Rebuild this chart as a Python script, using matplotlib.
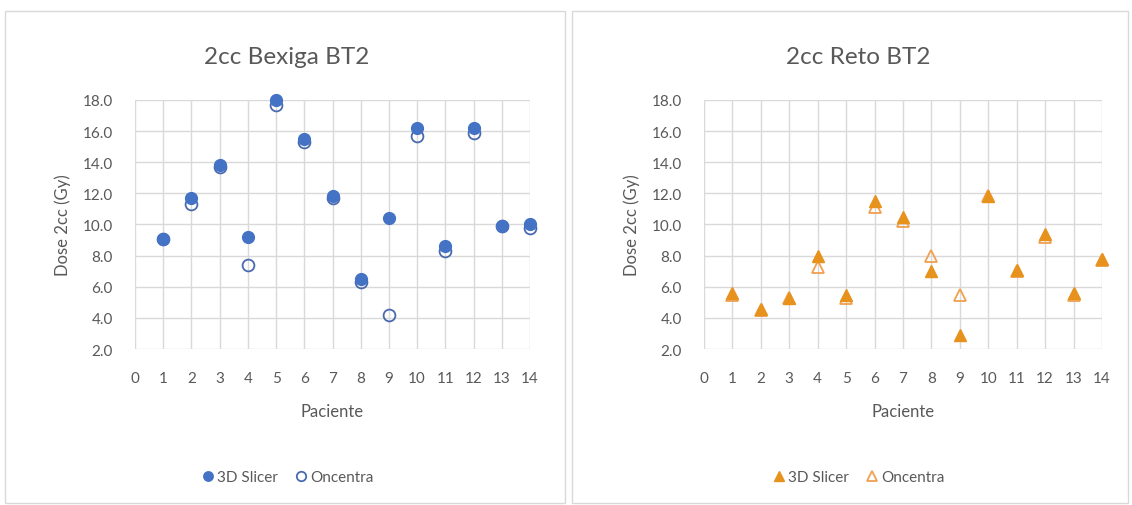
#!/usr/bin/env python3
"""Dose 2cc per patient: 3D Slicer vs Oncentra, bladder and rectum (BT2)."""

import matplotlib
matplotlib.use("Agg")
import matplotlib.pyplot as plt
from matplotlib.patches import Rectangle

pacientes = list(range(1, 15))

bexiga_slicer = [9.1, 11.7, 13.8, 9.2, 18.0, 15.5, 11.8, 6.5, 10.4, 16.2, 8.6, 16.2, 9.9, 10.0]
bexiga_oncentra = [9.1, 11.3, 13.7, 7.4, 17.7, 15.3, 11.7, 6.3, 4.2, 15.7, 8.3, 15.9, 9.9, 9.8]

reto_slicer = [5.6, 4.6, 5.3, 8.0, 5.5, 11.5, 10.5, 7.0, 2.9, 11.8, 7.1, 9.4, 5.6, 7.8]
reto_oncentra = [5.5, 4.5, 5.3, 7.3, 5.3, 11.1, 10.2, 8.0, 5.5, 11.8, 7.0, 9.2, 5.5, 7.7]

yticks = [2, 4, 6, 8, 10, 12, 14, 16, 18]

plt.rcParams["font.family"] = ["Lato", "DejaVu Sans"]

TEXT = "#595959"
GRID = "#D9D9D9"
BLUE = "#4472C4"
ORANGE = "#E8921E"

fig = plt.figure(figsize=(11.32, 5.06), dpi=100)

# chart frames like the two Excel chart boxes
for x0, w in [(5, 560), (572, 556)]:
    fig.patches.append(
        Rectangle((x0 / 1132, 2 / 506), w / 1132, 492 / 506,
                  transform=fig.transFigure, fill=False, edgecolor=GRID, linewidth=1)
    )

panels = [
    dict(rect=[135 / 1132, 156 / 506, 395 / 1132, 249 / 506], title="2cc Bexiga BT2",
         s=bexiga_slicer, o=bexiga_oncentra, marker="o", color=BLUE, edge_o="#4A6AAE",
         cx=287 / 1132),
    dict(rect=[704 / 1132, 156 / 506, 398 / 1132, 249 / 506], title="2cc Reto BT2",
         s=reto_slicer, o=reto_oncentra, marker="^", color=ORANGE, edge_o="#F0A050",
         cx=858 / 1132),
]

for p in panels:
    ax = fig.add_axes(p["rect"])
    ax.plot(pacientes, p["o"], linestyle="none", marker=p["marker"], markersize=8.5,
            markerfacecolor="none", markeredgecolor=p["edge_o"], markeredgewidth=1.3,
            label="Oncentra", zorder=3, clip_on=False)
    ax.plot(pacientes, p["s"], linestyle="none", marker=p["marker"], markersize=8.5,
            markerfacecolor=p["color"], markeredgecolor=p["color"],
            label="3D Slicer", zorder=4, clip_on=False)
    ax.set_xlim(0, 14)
    ax.set_ylim(2, 18)
    ax.set_xticks(range(0, 15))
    ax.set_yticks(yticks)
    ax.set_yticklabels([f"{v:.1f}" for v in yticks])
    ax.grid(True, color=GRID, linewidth=1)
    ax.set_axisbelow(True)
    for sp in ax.spines.values():
        sp.set_visible(False)
    ax.tick_params(length=0, labelsize=11, colors=TEXT)
    ax.tick_params(axis="y", pad=16)
    ax.tick_params(axis="x", pad=16)
    ax.set_xlabel("Paciente", fontsize=12, color=TEXT, labelpad=13)
    ax.set_ylabel("Dose 2cc (Gy)", fontsize=12, color=TEXT, labelpad=8)
    fig.text(p["cx"], 449 / 506, p["title"], ha="center", va="center",
             fontsize=17.5, color=TEXT)
    handles, labels = ax.get_legend_handles_labels()
    fig.legend(handles[::-1], labels[::-1], loc="center", ncol=2,
               bbox_to_anchor=(p["cx"], 28 / 506), frameon=False, fontsize=11,
               labelcolor=TEXT, handletextpad=0.1, columnspacing=1.0,
               handlelength=1.0, markerscale=0.8)

fig.savefig("out.png", dpi=100)
